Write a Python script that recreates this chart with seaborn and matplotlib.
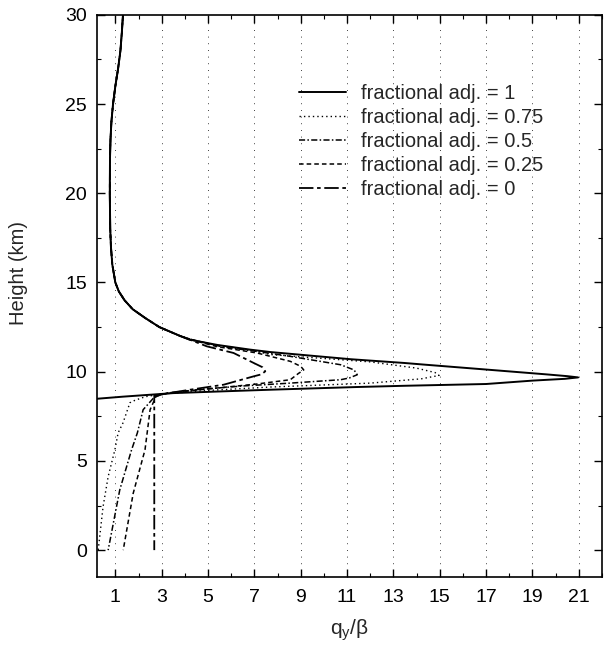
import numpy as np
import pandas as pd
import matplotlib
matplotlib.use("Agg")
import matplotlib.pyplot as plt
from matplotlib.ticker import MultipleLocator
import seaborn as sns

# Upper-troposphere / stratosphere part shared by every profile (height km, q_y/beta)
upper_h = [30, 29, 28, 27, 26, 25, 24, 23, 22, 20, 18, 17, 16, 15, 14.5, 14, 13.5, 13, 12.5, 12.0]
upper_q = [1.33, 1.28, 1.22, 1.12, 1.0, 0.9, 0.83, 0.79, 0.77, 0.76, 0.78, 0.81, 0.87, 1.0, 1.15,
           1.4, 1.75, 2.3, 2.9, 3.8]

# Lower part of each profile, from 12 km down to the ground
adj1_h = [11.8, 11.5, 11.24, 11.1, 10.7, 10.49, 10.4, 10.1, 9.85, 9.75, 9.68, 9.6, 9.5, 9.31,
          9.21, 9.14, 8.99, 8.9, 8.8, 8.6, 8.48, 8.4, 0.0]
adj1_q = [4.2, 5.4, 6.8, 7.7, 11.15, 13.46, 14.3, 17.2, 19.6, 20.5, 20.97, 20.4, 19.0, 17.0,
          13.46, 11.4, 7.69, 5.67, 3.5, 1.32, 0.18, 0.0, 0.0]

adj075_h = [11.8, 11.5, 11.2, 10.96, 10.55, 10.2, 9.95, 9.79, 9.6, 9.36, 9.14, 8.95, 8.75, 8.6,
            8.4, 8.26, 7.13, 6.57, 5.62, 4.12, 2.43, 0.0]
adj075_q = [4.3, 5.3, 6.9, 7.69, 12.0, 14.0, 14.8, 14.97, 14.2, 12.0, 7.69, 5.0, 3.0, 2.3,
            1.85, 1.63, 1.33, 1.12, 0.98, 0.69, 0.47, 0.26]

adj05_h = [11.8, 11.4, 11.1, 10.86, 10.39, 10.1, 9.83, 9.65, 9.55, 9.36, 9.2, 9.0, 8.8, 8.6,
           7.87, 6.57, 5.62, 3.37, 0.0]
adj05_q = [4.3, 5.6, 7.3, 8.55, 10.72, 11.3, 11.44, 11.1, 10.72, 8.55, 6.5, 4.6, 3.2, 2.7,
           2.2, 1.95, 1.7, 1.19, 0.69]

adj025_h = [11.8, 11.4, 11.05, 10.58, 10.3, 10.1, 9.9, 9.55, 9.31, 9.1, 8.9, 8.75, 8.6,
            7.87, 5.62, 3.18, 0.0]
adj025_q = [4.25, 5.4, 7.11, 8.55, 9.0, 9.13, 8.9, 8.55, 7.11, 5.5, 4.0, 3.1, 2.75,
            2.5, 2.28, 1.77, 1.34]

adj0_h = [11.8, 11.42, 11.05, 10.49, 10.25, 10.02, 9.85, 9.74, 9.27, 8.99, 8.8, 8.65, 0.0]
adj0_q = [4.2, 4.95, 6.1, 6.97, 7.35, 7.47, 7.3, 6.97, 5.67, 4.22, 3.3, 2.68, 2.68]

labels = ["fractional adj. = 1", "fractional adj. = 0.75", "fractional adj. = 0.5",
          "fractional adj. = 0.25", "fractional adj. = 0"]
lower_parts = [(adj1_h, adj1_q), (adj075_h, adj075_q), (adj05_h, adj05_q),
               (adj025_h, adj025_q), (adj0_h, adj0_q)]

frames = []
for lab, (h, q) in zip(labels, lower_parts):
    frames.append(pd.DataFrame({"height": upper_h + h, "q": upper_q + q, "case": lab}))
df = pd.concat(frames, ignore_index=True)

styles = {
    labels[0]: dict(linestyle="-", lw=1.4),
    labels[1]: dict(linestyle=(0, (1, 2.2)), lw=1.0),
    labels[2]: dict(linestyle=(0, (4, 1.5, 1, 1.5)), lw=1.1),
    labels[3]: dict(linestyle=(0, (3, 2)), lw=1.1),
    labels[4]: dict(linestyle=(0, (8, 2, 2, 2)), lw=1.3),
}

sns.set_style("ticks")
plt.rcParams["font.family"] = ["Liberation Sans", "DejaVu Sans"]
plt.rcParams["mathtext.fontset"] = "custom"
plt.rcParams["mathtext.rm"] = "Liberation Sans"
plt.rcParams["mathtext.it"] = "Liberation Sans"

fig = plt.figure(figsize=(6.05, 6.46), dpi=100)
ax = fig.add_axes([0.160, 0.107, 0.835, 0.870])

for lab in labels:
    sub = df[df["case"] == lab]
    sns.lineplot(data=sub, x="q", y="height", sort=False, estimator=None, color="black",
                 label=lab, ax=ax, **styles[lab])

ax.set_xlim(0.2, 22)
ax.set_ylim(-1.5, 30)
ax.xaxis.set_major_locator(MultipleLocator(2, offset=1))
ax.xaxis.set_minor_locator(MultipleLocator(1))
ax.yaxis.set_major_locator(MultipleLocator(5))
ax.yaxis.set_minor_locator(MultipleLocator(2.5))
ax.tick_params(which="both", direction="in", top=True, right=True, labelsize=14, colors="black")
ax.tick_params(which="major", length=6, width=1.0)
ax.tick_params(which="minor", length=3, width=0.8)
ax.tick_params(axis="x", pad=9)
ax.tick_params(axis="y", pad=7)
for s in ax.spines.values():
    s.set_linewidth(1.2)
    s.set_color("black")

ax.grid(axis="x", which="major", color="black", linestyle=(0, (1, 7)), lw=0.6)

ax.set_xlabel(r"q$_\mathrm{y}$/β", fontsize=15, labelpad=8)
ax.set_ylabel("Height (km)", fontsize=14.5)
ax.yaxis.set_label_coords(-0.137, 0.54)

leg = ax.legend(loc="upper left", bbox_to_anchor=(0.478, 0.885), bbox_transform=fig.transFigure,
                frameon=False, fontsize=14.5, handlelength=2.3, handletextpad=0.75,
                labelspacing=0.25, borderpad=0)

fig.savefig("out.png", dpi=100)
